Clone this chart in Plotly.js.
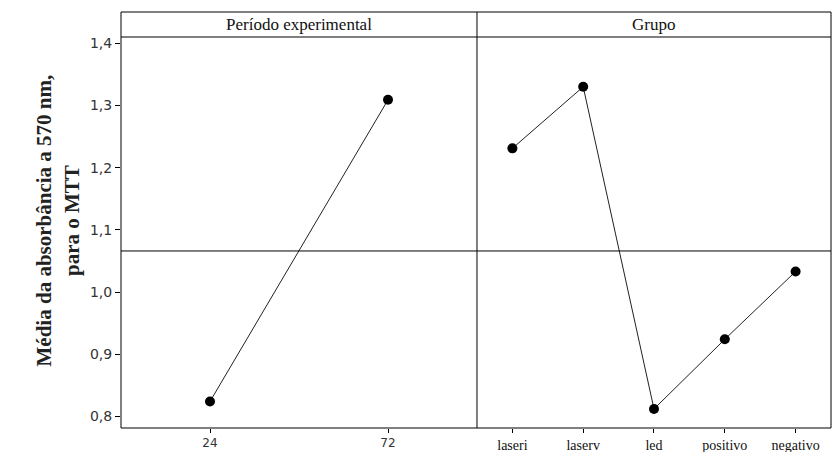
<!DOCTYPE html>
<html>
<head>
<meta charset="utf-8">
<script src="https://cdn.plot.ly/plotly-3.0.1.min.js"></script>
<style>
  html, body { margin: 0; padding: 0; background: #fff; }
  #chart { width: 839px; height: 452px; }
</style>
</head>
<body>
<div id="chart"></div>
<script>
// Main effects plot: mean MTT absorbance at 570 nm
const periods = ['24', '72'];
const periodMeans = [0.824, 1.309];

const groups = ['laseri', 'laserv', 'led', 'positivo', 'negativo'];
const groupMeans = [1.231, 1.330, 0.812, 0.924, 1.033];

const grandMean = 1.066;

const panelTitles = ['Período experimental', 'Grupo'];
const yTitleLines = ['Média da absorbância a 570 nm,', 'para o MTT'];

const split = 0.5014;      // boundary between the two panels (paper x)
const headerBase = 0.9399; // bottom of the panel header strip (paper y)

const lineStyle = { color: '#222', width: 1 };
const markerStyle = { color: '#000', size: 10, symbol: 'circle' };

const traces = [
  {
    x: periods, y: periodMeans, xaxis: 'x', yaxis: 'y',
    type: 'scatter', mode: 'lines+markers',
    line: lineStyle, marker: markerStyle, hoverinfo: 'x+y'
  },
  {
    x: groups, y: groupMeans, xaxis: 'x2', yaxis: 'y',
    type: 'scatter', mode: 'lines+markers',
    line: lineStyle, marker: markerStyle, hoverinfo: 'x+y'
  }
];

const layout = {
  width: 839, height: 452,
  margin: { l: 121, r: 8, t: 12, b: 24 },
  paper_bgcolor: '#fff', plot_bgcolor: '#fff',
  showlegend: false,
  separators: ',.',
  xaxis: {
    domain: [0, split], type: 'category', range: [-0.5, 1.5],
    showgrid: false, zeroline: false, showline: false,
    ticks: 'outside', ticklen: 4, tickcolor: '#000', tickwidth: 1,
    tickfont: { family: 'DejaVu Sans', size: 12, color: '#333' },
    fixedrange: true
  },
  xaxis2: {
    domain: [split, 1], type: 'category', range: [-0.5, 4.5], anchor: 'y',
    showgrid: false, zeroline: false, showline: false,
    ticks: 'outside', ticklen: 4, tickcolor: '#000', tickwidth: 1,
    tickfont: { family: 'Liberation Serif', size: 14, color: '#111' },
    fixedrange: true
  },
  yaxis: {
    domain: [0, headerBase], range: [0.7814, 1.410],
    tickvals: [0.8, 0.9, 1.0, 1.1, 1.2, 1.3, 1.4], tickformat: '.1f',
    showgrid: false, zeroline: false, showline: false,
    ticks: 'outside', ticklen: 5, tickcolor: '#000', tickwidth: 1,
    tickfont: { family: 'DejaVu Sans', size: 14, color: '#333' },
    fixedrange: true
  },
  shapes: [
    // outer frame
    { type: 'rect', xref: 'paper', yref: 'paper', x0: 0, x1: 1, y0: 0, y1: 1,
      line: { color: '#000', width: 1 } },
    // header strip bottom
    { type: 'line', xref: 'paper', yref: 'paper', x0: 0, x1: 1, y0: headerBase, y1: headerBase,
      line: { color: '#000', width: 1 } },
    // panel divider
    { type: 'line', xref: 'paper', yref: 'paper', x0: split, x1: split, y0: 0, y1: 1,
      line: { color: '#000', width: 1 } },
    // overall mean reference line
    { type: 'line', xref: 'paper', yref: 'y', x0: 0, x1: 1, y0: grandMean, y1: grandMean,
      line: { color: '#000', width: 1 } }
  ],
  annotations: [
    { text: panelTitles[0], xref: 'paper', yref: 'paper',
      x: split / 2, y: (1 + headerBase) / 2, showarrow: false,
      xanchor: 'center', yanchor: 'middle',
      font: { family: 'Liberation Serif', size: 17, color: '#111' } },
    { text: panelTitles[1], xref: 'paper', yref: 'paper',
      x: (1 + split) / 2, y: (1 + headerBase) / 2, showarrow: false,
      xanchor: 'center', yanchor: 'middle',
      font: { family: 'Liberation Serif', size: 17, color: '#111' } },
    { text: '<b>' + yTitleLines[0] + '</b><br><b>' + yTitleLines[1] + '</b>',
      xref: 'paper', yref: 'paper', x: -0.0895, y: 0.5,
      xanchor: 'center', yanchor: 'middle', textangle: -90, showarrow: false,
      font: { family: 'Liberation Serif', size: 21, color: '#222' } }
  ]
};

Plotly.newPlot('chart', traces, layout, { displayModeBar: false, staticPlot: true });
</script>
</body>
</html>
